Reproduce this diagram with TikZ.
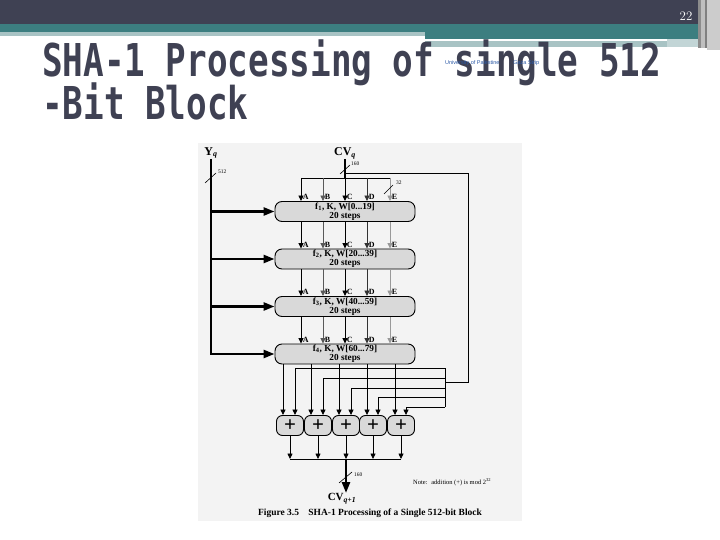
\documentclass[tikz,border=0pt]{standalone}
\usepackage{fontspec}
\usepackage{graphicx}
\usetikzlibrary{arrows.meta,positioning}
\newfontfamily\titlefont{DejaVu Sans Mono}
\newfontfamily\figfont{Liberation Serif}
\newfontfamily\markfont{Liberation Sans}
\definecolor{slate}{HTML}{3F4153}
\definecolor{tealband}{HTML}{3C7E80}
\definecolor{paleband}{HTML}{A8C3C4}
\definecolor{figback}{HTML}{F3F3F3}

\begin{document}
\begin{tikzpicture}[x=1bp,y=1bp]
	\tikzstyle{every node}+=[inner sep=0pt]
	\tikzstyle{title}=[anchor=base west, text=slate, font=\titlefont\bfseries\fontsize{34.4}{40}\selectfont]
	\tikzstyle{round box}=[draw=black, line width=0.9bp, fill=black!15, rounded corners=7bp, minimum width=140bp, minimum height=20bp, align=center, font=\figfont\bfseries\fontsize{9.3}{9.3}\selectfont]
	\tikzstyle{adder}=[draw=black, line width=0.9bp, fill=black!15, rounded corners=6bp, minimum width=27bp, minimum height=20bp, font=\figfont\bfseries\fontsize{21}{21}\selectfont]
	\tikzstyle{wire}=[line width=0.8bp, -{Triangle[length=5.5bp,width=5bp]}]
	\tikzstyle{fat}=[line width=2.5bp]
	\tikzstyle{fat arrow}=[-{Triangle[length=11bp,width=8bp]}]
	\tikzstyle{lbl}=[anchor=south west, xshift=1.5bp, yshift=1bp, text=black, font=\figfont\bfseries\fontsize{8}{8}\selectfont]
	\tikzstyle{big lbl}=[font=\figfont\bfseries\fontsize{12}{12}\selectfont]
	\tikzstyle{tiny}=[anchor=west, font=\figfont\fontsize{5.5}{6}\selectfont]
	\useasboundingbox (0,0) rectangle (720,-540);
	% slide header
	\fill [slate] (0,0) rectangle (698,-24);
	\fill [tealband] (0,-24) rectangle (698,-32);
	\fill [tealband] (425,-32) rectangle (698,-39);
	\fill [paleband] (0,-32) rectangle (425,-36);
	\fill [paleband] (425,-41) rectangle (667,-47);
	\fill [paleband!70] (667,-39) rectangle (698,-47);
	\fill [black!45] (698,0) rectangle (701,-48);
	\fill [black!25] (701,0) rectangle (705,-48);
	\fill [black!50] (705,0) rectangle (707,-48);
	\fill [black!20] (707,0) rectangle (720,-50);
	\node [text=white, font=\fontsize{13}{13}\selectfont] (pageno) at (686,-16) {22};
	\node [title] (title1) at (42,-77) {\scalebox{1}[1.32]{SHA-1 Processing of single 512}};
	\node [title] (title2) at (42,-120) {\scalebox{1}[1.32]{-Bit Block}};
	\node [anchor=west, text=tealband!70!blue, font=\markfont\fontsize{5.5}{6}\selectfont] (mark) at (445,-63) {University of Palestine\hspace{14bp}Gaza Strip};
	% figure
	\fill [figback] (198,-143) rectangle (522,-521);
	\node [big lbl] (yq) at (211,-153) {Y\textsubscript{\itshape q}};
	\node [big lbl] (cvq) at (345,-153) {CV\textsubscript{\itshape q}};
	\node [round box] (b1) at (345,-211.5) {f\textsubscript{1}, K, W[0...19]\\20 steps};
	\node [round box] (b2) at (345,-259) {f\textsubscript{2}, K, W[20...39]\\20 steps};
	\node [round box] (b3) at (345,-306.5) {f\textsubscript{3}, K, W[40...59]\\20 steps};
	\node [round box] (b4) at (345,-354) {f\textsubscript{4}, K, W[60...79]\\20 steps};
	\node [adder] (a1) at (290,-425.5) {+};
	\node [adder] (a2) at (318,-425.5) {+};
	\node [adder] (a3) at (346,-425.5) {+};
	\node [adder] (a4) at (373,-425.5) {+};
	\node [adder] (a5) at (401,-425.5) {+};
	\node [big lbl, anchor=north, font=\figfont\bfseries\fontsize{11}{11}\selectfont] (cvnext) at (342,-493) {CV\textsubscript{\itshape q+1}};
	\node [tiny, font=\figfont\fontsize{6.5}{7}\selectfont] (note) at (413,-482) {Note:~ addition (+) is mod 2\textsuperscript{32}};
	\node [font=\figfont\bfseries\fontsize{9.5}{10}\selectfont] (caption) at (370,-513) {Figure 3.5\quad SHA-1 Processing of a Single 512-bit Block};
	\coordinate (bus) at (345,-178);
	\coordinate (fbturn) at (468,-173);
	\coordinate (fbjoin) at (445,-382);
	\coordinate (sum) at (346,-459);
	\coordinate (cA) at (301,0);
	\coordinate (cB) at (323,0);
	\coordinate (cC) at (345,0);
	\coordinate (cD) at (367,0);
	\coordinate (cE) at (390,0);
	\coordinate (o1) at (283,0);
	\coordinate (o2) at (311,0);
	\coordinate (o3) at (339,0);
	\coordinate (o4) at (367,0);
	\coordinate (o5) at (395,0);
	\coordinate (f1) at (295,0);
	\coordinate (f2) at (323,0);
	\coordinate (f3) at (351,0);
	\coordinate (f4) at (378,0);
	\coordinate (f5) at (406,0);
	\coordinate (r1) at (445,-368);
	\coordinate (r2) at (445,-378);
	\coordinate (r3) at (445,-388);
	\coordinate (r4) at (445,-397);
	\coordinate (r5) at (445,-407);
	% message input Yq
	\draw [fat, fat arrow] (yq.south) |- (b4.west);
	\draw [fat, fat arrow] (yq.south |- b1.west) -- (b1.west);
	\draw [fat, fat arrow] (yq.south |- b2.west) -- (b2.west);
	\draw [fat, fat arrow] (yq.south |- b3.west) -- (b3.west);
	\draw [line width=0.6bp] (205,-183) -- (216,-173);
	\node [tiny] (w512) at (218,-172) {512};
	% chaining value CVq
	\draw [fat] (cvq.south) -- (bus);
	\draw [line width=0.6bp] (340,-174) -- (350,-165);
	\node [tiny] (w160) at (351,-164) {160};
	\draw [line width=0.9bp] (bus -| cA) -- (bus -| cE);
	\draw [line width=0.9bp] (cvq.south |- fbturn) -- (fbturn) |- (fbjoin);
	\draw [wire] (bus -| cA) -- (b1.north -| cA) node [lbl] {A};
	\draw [wire, black!65] (bus -| cB) -- (b1.north -| cB) node [lbl] {B};
	\draw [wire] (bus -| cC) -- (b1.north -| cC) node [lbl] {C};
	\draw [wire, black!80] (bus -| cD) -- (b1.north -| cD) node [lbl] {D};
	\draw [wire, black!40] (bus -| cE) -- (b1.north -| cE) node [lbl] {E};
	\draw [line width=0.6bp] (384,-194) -- (393,-185);
	\node [tiny] (w32) at (396,-183) {32};
	% rounds
	\draw [wire] (b1.south -| cA) -- (b2.north -| cA) node [lbl] {A};
	\draw [wire, black!65] (b1.south -| cB) -- (b2.north -| cB) node [lbl] {B};
	\draw [wire] (b1.south -| cC) -- (b2.north -| cC) node [lbl] {C};
	\draw [wire, black!80] (b1.south -| cD) -- (b2.north -| cD) node [lbl] {D};
	\draw [wire, black!40] (b1.south -| cE) -- (b2.north -| cE) node [lbl] {E};
	\draw [wire] (b2.south -| cA) -- (b3.north -| cA) node [lbl] {A};
	\draw [wire, black!65] (b2.south -| cB) -- (b3.north -| cB) node [lbl] {B};
	\draw [wire] (b2.south -| cC) -- (b3.north -| cC) node [lbl] {C};
	\draw [wire, black!80] (b2.south -| cD) -- (b3.north -| cD) node [lbl] {D};
	\draw [wire, black!40] (b2.south -| cE) -- (b3.north -| cE) node [lbl] {E};
	\draw [wire] (b3.south -| cA) -- (b4.north -| cA) node [lbl] {A};
	\draw [wire, black!65] (b3.south -| cB) -- (b4.north -| cB) node [lbl] {B};
	\draw [wire] (b3.south -| cC) -- (b4.north -| cC) node [lbl] {C};
	\draw [wire, black!80] (b3.south -| cD) -- (b4.north -| cD) node [lbl] {D};
	\draw [wire, black!40] (b3.south -| cE) -- (b4.north -| cE) node [lbl] {E};
	% final round into the adders
	\draw [wire] (b4.south -| o1) -- (a1.north -| o1);
	\draw [wire] (b4.south -| o2) -- (a2.north -| o2);
	\draw [wire] (b4.south -| o3) -- (a3.north -| o3);
	\draw [wire] (b4.south -| o4) -- (a4.north -| o4);
	\draw [wire] (b4.south -| o5) -- (a5.north -| o5);
	% feed forward of CVq
	\draw [line width=0.8bp] (r1) -- (r5);
	\draw [wire] (r1) -| (a1.north -| f1);
	\draw [wire] (r2) -| (a2.north -| f2);
	\draw [wire] (r3) -| (a3.north -| f3);
	\draw [wire] (r4) -| (a4.north -| f4);
	\draw [wire] (r5) -| (a5.north -| f5);
	% output CVq+1
	\draw [wire] (a1.south) -- (a1.south |- sum);
	\draw [wire] (a2.south) -- (a2.south |- sum);
	\draw [wire] (a3.south) -- (a3.south |- sum);
	\draw [wire] (a4.south) -- (a4.south |- sum);
	\draw [wire] (a5.south) -- (a5.south |- sum);
	\draw [line width=0.8bp] (a1.south |- sum) -- (a5.south |- sum);
	\draw [fat, fat arrow] (sum) -- (sum |- cvnext.north);
	\draw [line width=0.6bp] (339,-483) -- (352,-472);
	\node [tiny] (w160b) at (354,-475) {160};
\end{tikzpicture}
\end{document}
